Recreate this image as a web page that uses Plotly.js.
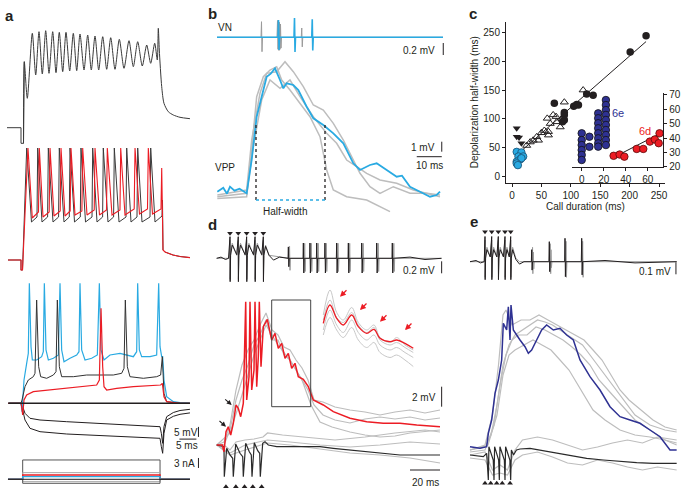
<!DOCTYPE html>
<html><head><meta charset="utf-8">
<script src="https://cdn.plot.ly/plotly-3.0.1.min.js"></script>
<style>html,body{margin:0;padding:0;background:#fff}#chart{width:685px;height:496px}</style>
</head><body><div id="chart"></div>
<script>
// ================= DATA =================
// ---- panel c : main scatter (call duration ms, depolarization half-width ms)
const cBlackCircX = [228,201,127,138,113,105,110,72,89,89,89,86];
const cBlackCircY = [244,216,143,141,124,122,125,127,107,98,111,95];
const cOpenTriX = [121,89,70,60,65,50,42,36,25,62,62,76,82,45,31,55,75,85];
const cOpenTriY = [150,129,107,101,92,76,69,63,54,78,72,95,86,63,60,80,104,100];
const cDownTriX = [8,8,12,16];
const cDownTriY = [84,69,68,58];
const cCyanX = [8,16,11,19,14,8,16,8,10];
const cCyanY = [43,42,35,35,30,26,32,23,20];
const cFitX = [5,228];
const cFitY = [35,234];
const cTicksX = [0,50,100,150,200,250];
const cTicksY = [0,50,100,150,200,250];
// ---- panel c : inset (6e blue, 6d red)
const cInsBlueX = [0,0,0,0,0,0, 7,7, 15,15,15,15,15,15,15,15, 22,22,22,22,22,22,22,22,22,22];
const cInsBlueY = [43.3,38.6,35.1,31.6,28.2,24.7, 40.9,33.9, 57.2,53.8,50.3,46.8,43.3,39.8,36.3,34, 66.5,63,59.5,56.1,52.6,49.1,45.6,42.1,38.6,35.1];
const cInsRedX = [29,34.5,38.8,50,56,62,66.5,70.8,70];
const cInsRedY = [27.6,28.5,27,32.4,32.4,37.5,39,43.3,36.4];
const cInsFitX = [29,71];
const cInsFitY = [26.5,43];
const cInsTicksX = [0,20,40,60];
const cInsTicksY = [20,30,40,50,60,70];

// ---- panel a (time ms, membrane potential mV relative to rest; current nA)
const aTop = [[-4.41,0],[-0.29,0],[-0.29,-7.8],[0.44,-7.8],[0.68,33],[1.56,14.7],[3.03,47.2],[4.03,26.35],[5.0,48],[5.97,26.85],[6.97,48.5],[7.94,27.2],[9.03,48],[10.0,27.5],[10.97,47.7],[11.97,28],[12.94,47.7],[14.03,28.35],[15.09,47.2],[16.09,28.5],[17.06,46.85],[18.24,28.85],[19.32,46.35],[20.38,28.85],[21.47,45.85],[22.56,28.85],[23.74,45.5],[24.91,29.2],[26.09,45],[27.35,29.2],[28.62,44.2],[30.0,29.7],[31.47,43.5],[32.74,30.5],[34.03,43],[35.38,30.85],[36.68,41.35],[37.85,32.2],[39.03,42.2],[39.79,33.85],[40.09,49.7],[40.38,38.85],[41.09,20.5],[41.76,12.2],[43.03,8],[44.5,6.35],[46.47,5.2],[49.4,4.5]];
const aMidBlack = [[-4.12,0],[-0.29,0],[-0.29,-5],[0.15,-5],[1.38,56],[2.79,19],[4.41,21.5],[4.62,56],[5.88,19],[7.53,21.5],[7.74,56],[9.12,19],[10.76,21.5],[10.97,56],[12.35,19],[13.91,21.5],[14.12,56],[15.44,19],[17.15,21.5],[17.35,56],[18.68,19],[20.59,21.5],[20.79,56],[22.06,19],[23.71,21.5],[23.91,56],[25.29,19],[26.94,21.5],[27.15,56],[28.53,19],[30.59,21.5],[30.79,56],[32.06,19],[33.82,21.5],[34.03,56],[35.29,19],[37.65,21.5],[37.85,56],[39.12,19],[41.18,22],[41.32,30],[41.47,5],[42.06,4],[44.41,2.5],[46.47,1.75],[49.4,1.2]];
const aMidRed = [[-4.12,0],[-0.29,0],[-0.29,-5],[0.15,-5],[1.76,56],[3.03,21],[4.85,24],[5.09,56],[6.18,21.5],[8.0,24],[8.24,56],[9.41,22],[11.24,24.5],[11.47,56],[12.65,22],[14.18,24.5],[14.41,56],[15.59,22.5],[17.62,24.5],[17.85,56],[19.12,22.5],[21.24,25],[21.47,56],[22.79,22.5],[24.85,25],[25.09,56],[26.47,22.5],[28.82,25],[29.03,56],[30.29,22.5],[33.0,25.5],[33.24,56],[34.56,23],[36.91,25.5],[37.15,56],[38.38,23],[40.88,25.5],[41.09,46],[41.47,5],[42.06,4],[44.41,2.5],[46.47,1.75],[49.4,1.2]];
const aLowCyan = [[-4.02,0],[-0.29,0],[0,-4.2],[0.59,11.65],[1.37,20],[1.86,25],[2.16,60],[2.65,28.3],[3.04,21.65],[4.31,21.65],[5.78,23.3],[6.27,25.8],[6.57,60],[7.06,26.65],[7.75,21.65],[9.22,22.5],[10.69,24.15],[11.18,60],[11.67,26.65],[12.35,20.8],[14.12,22.5],[16.08,24.15],[16.76,25.8],[17.06,60],[17.55,26.65],[18.53,21.65],[20.49,22.5],[22.16,24.15],[22.75,60],[23.24,26.65],[24.12,21.65],[25.88,24.15],[28.82,25],[30.78,24.15],[32.75,23.3],[33.73,25.8],[34.02,60],[34.51,26.65],[35.2,23.3],[37.65,23.3],[39.61,24.15],[40.2,60],[40.59,28.3],[41.08,23.3],[41.37,23.3],[41.76,11.65],[42.55,3.3],[44.51,0.8],[46.47,0.3],[49.4,0.1]];
const aLowBlack = [[-4.02,0],[-0.29,0],[0,1.65],[0.88,8.3],[1.86,11.65],[3.33,13.3],[3.82,15],[4.31,51.65],[4.9,18.3],[5.49,13.3],[7.26,12.5],[9.22,14.15],[10,15.8],[10.39,51.65],[10.98,18.3],[11.67,13.3],[15.1,13.3],[19.02,14.15],[22.94,14.15],[26.86,14.15],[29.31,15],[30,17.5],[30.39,51.65],[30.98,18.3],[31.76,13.3],[35.69,12.5],[39.61,13.3],[40.78,14.15],[41.27,23.3],[41.76,5],[42.55,0.8],[46.47,0],[49.4,0]];
const aLowRed = [[-4.02,0],[-0.29,0],[-0.1,-1.7],[0.2,-5.85],[0.59,1.65],[1.37,4.15],[3.33,5.8],[8.24,6.65],[13.14,7.5],[18.04,8.3],[21.96,9.15],[22.75,11.65],[23.24,47.5],[23.73,18.3],[24.12,8.3],[24.9,6.65],[27.84,7.5],[32.75,8.3],[37.65,8.65],[40.78,9.15],[41.27,10],[41.76,3.3],[42.55,0.8],[46.47,0],[49.4,0]];
const aHyp1 = [[-4.02,0],[-0.29,0],[0.2,-1.7],[0.88,-5],[2.35,-7.5],[5.29,-8.35],[13.14,-9.2],[22.94,-10],[32.75,-10.85],[40.59,-11.7],[40.98,-15],[41.37,-20],[41.76,-11.7],[42.55,-6.7],[44.51,-4.6],[46.47,-3.6],[49.4,-3.0]];
const aHyp2 = [[-4.02,0],[-0.29,0],[0.2,-3.35],[0.88,-8.35],[2.35,-12.5],[5.29,-14.2],[13.14,-15.35],[22.94,-16.2],[32.75,-17],[40.59,-17.5],[40.98,-21.7],[41.37,-25],[41.76,-15],[42.55,-8.35],[44.51,-6.5],[46.47,-5.5],[49.4,-4.8]];
const aRest = [[-4.02,0],[49.4,0]];
const aCurrentLevels = [5.8, 2.0, 1.3, 0.8, -0.7, -1.2];
const aCurrentStep = [0.2, 40.6];
const aCurrentSpan = [-4.12, 49.4];

// ---- panel b (time ms; VN mV, VPP mV)
const bVnGray = [[0,0],[17.6,0],[17.8,0.26],[18.0,-0.24],[18.2,0],[24.0,0],[24.2,0.28],[24.4,-0.2],[24.6,0.27],[24.8,-0.22],[25.0,0.25],[25.2,-0.2],[25.4,0.22],[25.6,-0.18],[25.8,0],[33.7,0],[33.9,0.155],[34.1,-0.16],[34.3,0],[90.4,0]];
const bVnCyan = [[0,0],[24.4,0],[24.6,0.29],[24.8,-0.21],[25.0,0],[30.8,0],[31.0,0.32],[31.2,-0.245],[31.4,0],[37.9,0],[38.1,0.3],[38.3,-0.22],[38.5,0],[90.4,0]];
const bVppGray1 = [[0.13,-0.67],[11.87,-0.5],[13.87,4.17],[15.87,9.5],[18.53,11.5],[21.2,12.17],[23.87,12.5],[25.87,11.17],[29.2,10.17],[33.2,8.84],[37.2,7.5],[41.2,5.5],[43.87,2.17],[46.53,0.17],[51.87,-0.5],[59.87,-0.83],[65.2,-1.5],[69.2,-2]];
const bVppGray2 = [[0.13,-0.33],[11.87,0.17],[13.87,5.17],[17.2,9.84],[19.87,11.84],[23.87,12],[27.2,13],[30.53,12],[34.53,10.5],[38.53,8.67],[42.53,8.17],[46.53,6.84],[50.53,5.17],[53.2,3.84],[57.2,1.84],[61.2,0.5],[65.2,-0.16],[70.53,0.5],[77.2,-0.16],[83.87,-0.16],[89.2,-0.33]];
const bVppGray3 = [[0.13,-0.5],[11.87,-0.16],[14.53,4.5],[17.87,9.17],[21.2,11.17],[25.2,10.34],[29.2,11.17],[33.2,9.5],[38.53,7.5],[43.87,5.84],[47.87,4.84],[51.87,3.17],[55.87,2.5],[59.87,1.84],[65.2,1.17],[71.87,0.84],[78.53,0.17],[89.2,-0.5]];
const bVppCyan = [[0.13,0],[2.5,0.4],[4,-0.2],[5.2,0.5],[7,0.1],[9,0.3],[11.87,-0.16],[13.87,3.17],[15.87,7.5],[17.87,9.5],[19.87,11.5],[21.5,11.8],[23.2,12.34],[25.2,11.17],[26.53,10.34],[27.87,10.84],[30.53,10.67],[32.53,10.17],[35.87,8.5],[38.53,7.34],[42.53,6.67],[46.53,5.84],[50.53,4.84],[54.53,2.84],[57.2,2.17],[61.2,2.67],[63.87,2.84],[67.87,2.17],[71.87,1.5],[74,1.6],[77.2,0.5],[81.2,0],[85.2,-0.5],[87.87,-0.33],[89.2,0]];
const bHalfWidthT = [15.6, 43.2];
const bHalfWidthV = [6.67, -0.83];

// ---- panel d (time ms; top VN mV, lower VPP mV, inset)
const dTopGray = [[-8.9,0],[-0.5,0],[0,0.3],[0.1,-0.35],[0.4,0.1],[1.5,0.25],[4.5,0.05],[5.5,0.3],[5.6,-0.35],[5.9,0.1],[7,0.25],[10.1,0.05],[11.1,0.3],[11.2,-0.35],[11.5,0.1],[12.6,0.25],[15.7,0.05],[16.7,0.3],[16.8,-0.35],[17.1,0.1],[18.2,0.25],[21.2,0.05],[22.2,0.3],[22.3,-0.35],[22.6,0.1],[23.7,0.22],[26,0.05],[39.5,0],[39.7,0.2],[40,-0.2],[40.3,0],[49.6,0],[49.8,0.25],[50.1,-0.22],[50.4,0],[54,0],[54.2,0.25],[54.5,-0.22],[54.8,0],[58.6,0],[58.8,0.25],[59.1,-0.22],[59.4,0],[64,0],[64.2,0.25],[64.5,-0.22],[64.8,0],[71.8,0],[72,0.25],[72.3,-0.22],[72.6,0],[79.6,0],[79.8,0.25],[80.1,-0.22],[80.4,0],[88.6,0],[88.8,0.25],[89.1,-0.22],[89.4,0],[98.6,0],[98.8,0.25],[99.1,-0.22],[99.4,0],[109,0],[109.2,0.25],[109.5,-0.22],[109.8,0],[141,0]];
const dTopBlack = [[-8.9,0],[-6,0.02],[-3,-0.02],[-1,0],[0,0.36],[0.1,-0.39],[0.4,0.05],[1.5,0.22],[4.5,0.06],[5.5,0.36],[5.6,-0.39],[5.9,0.05],[7.0,0.22],[10.1,0.06],[11.1,0.36],[11.2,-0.39],[11.5,0.05],[12.6,0.22],[15.7,0.06],[16.7,0.36],[16.8,-0.39],[17.1,0.05],[18.2,0.22],[21.2,0.06],[22.2,0.36],[22.3,-0.39],[22.6,0.05],[23.7,0.2],[26,0.05],[29,-0.03],[33,0.02],[38.7,0],[38.9,0.19],[39.2,-0.14],[39.5,0],[48.7,0],[48.9,0.255],[49.2,-0.245],[49.5,0],[53.1,0],[53.3,0.255],[53.6,-0.245],[53.9,0],[57.6,0],[57.8,0.255],[58.1,-0.245],[58.4,0],[63.1,0],[63.3,0.255],[63.6,-0.245],[63.9,0],[70.9,0],[71.1,0.255],[71.4,-0.245],[71.7,0],[78.7,0],[78.9,0.255],[79.2,-0.245],[79.5,0],[87.6,0],[87.8,0.255],[88.1,-0.245],[88.4,0],[97.6,0],[97.8,0.255],[98.1,-0.245],[98.4,0],[108,0],[108.2,0.255],[108.5,-0.245],[108.8,0],[120,0.02],[130,-0.02],[141,0]];
const dStimTop = [0,5.5,11.1,16.7,22.2];
const dStimBottom = [-2.7,3.9,9.7,15.2,21.1];
const dLowGrayU1 = [[-8.87,0],[-4,0.3],[0,2],[4,5.5],[8,8],[12,9.5],[16,10.5],[20,12],[24,13.2],[28,11.5],[32,11],[36,9.8],[40,9.5],[44,8.5],[48,7.7],[52,6.5],[56,4.5],[62,4.3],[70,3.8],[80,3.5],[90,3.3],[100,3],[110,3.3],[120,3.5],[130,3.2],[140,3.5]];
const dLowGrayU2 = [[-8.87,0],[-4,0],[0,1.5],[4,4.5],[8,6.5],[12,8],[16,10],[20,11],[24,12.5],[28,10.5],[32,10.5],[36,9],[40,8.5],[44,7.5],[48,6.5],[52,5.5],[56,4],[62,3],[70,2.5],[80,2.2],[90,2.6],[100,2.8],[110,2.6],[120,2.8],[130,2.5],[140,2.7]];
const dLowGrayU3 = [[-8.87,0],[0,1.2],[8,5],[16,9],[24,12],[32,10],[40,8.5],[48,6.5],[54,4],[60,2.3],[68,1.8],[80,1.3],[90,1],[100,0.8],[110,0.9],[120,1.2],[140,1.5]];
const dLowGrayL1 = [[-8.87,0],[-4,0],[0,-0.5],[4,0.3],[10,0.5],[16,0.6],[22,0.8],[25,1.2],[35,1],[50,0.8],[70,0.5],[90,0.8],[110,1.2],[130,1.5],[140,1.3]];
const dLowGrayL2 = [[-8.87,0],[0,-0.8],[10,0],[20,0.3],[25,0.5],[40,0.3],[60,0],[80,-0.2],[100,0],[120,0.3],[140,0.1]];
const dLowGrayL3 = [[-8.87,0],[0,-1],[10,-0.5],[22,0],[25,0.2],[40,0],[60,-0.4],[80,-0.8],[100,-1],[120,-1.3],[140,-1.8]];
const dLowBlack = [[-8.87,0],[-4.87,-0.1],[-4,-0.17],[-3.8,-3.17],[-2.2,-0.33],[0,-1],[1.8,-1.33],[2.2,-3.17],[3.8,0.1],[6.67,-0.83],[8.47,-1.17],[8.87,-3.17],[10.47,0.17],[12.87,-0.67],[14.2,-1],[14.67,-3.17],[16.2,0.23],[18.47,-0.57],[19.8,-0.83],[20.2,-3.17],[21.8,0.17],[23.33,0.33],[25.53,0],[31.13,-0.17],[42.2,-0.17],[60,-0.17],[68.87,-0.33],[91.13,-0.67],[113.33,-1],[140,-1]];
const dLowRed = [[-8.87,0],[-5.13,0],[-4,-0.67],[-2.67,1.33],[-1.13,1.83],[0.47,1],[2.2,2.17],[4,4],[5.53,3.67],[7.13,2.83],[8.87,4.17],[10.47,14.33],[11.13,4.5],[12.67,6.83],[13.33,14.33],[14.47,5.5],[16,7.5],[16.67,14.33],[17.8,5.83],[18.87,8.83],[19.53,14.33],[20.67,7.83],[22.2,11.83],[24.87,12.57],[27.8,10.5],[30,11.17],[32.2,9.67],[34.47,10.17],[36.67,8.67],[38.87,9.17],[41.13,7.67],[43.33,8.17],[45.53,6.83],[48.87,6.57],[52.2,5.83],[54.47,4.83],[55.53,4.5],[62.2,4],[68.87,3.33],[80,2.67],[91.13,2.33],[102.2,2.17],[113.33,2.17],[124.47,2],[140,1.83]];
const dBoxT = [27.8, 53.8];
const dBoxV = [3.83, 14.5];
const dInsetRed = [[27.8,4.34],[29.74,8],[31.67,5.34],[33.58,4],[36.01,6],[37.92,3.66],[40.34,2.34],[42.45,3.14],[44.19,1.34],[47.08,0.66],[49.01,1],[51.41,0.34],[53.81,-0.66]];
const dInsetGray1 = [[27.8,6],[29.74,11],[31.67,6.5],[33.58,5],[36.01,7.5],[37.92,4.5],[40.34,3],[42.45,4],[44.19,1.5],[47.08,0.5],[49.01,1.5],[51.41,0],[53.81,-1]];
const dInsetGray2 = [[27.8,3],[29.74,7],[31.67,4],[33.58,2.5],[36.01,5],[37.92,2.5],[40.34,1],[42.45,2],[44.19,0],[47.08,-1],[49.01,-0.5],[51.41,-1.5],[53.81,-2.5]];
const dInsetGray3 = [[27.8,2],[29.74,5.5],[31.67,3],[33.58,1.5],[36.01,3.5],[37.92,1],[40.34,-0.5],[42.45,0.5],[44.19,-1.5],[47.08,-2.5],[49.01,-2],[51.41,-3],[53.81,-4.3]];
const dInsetGray4 = [[27.8,5],[29.74,9],[31.67,5.5],[33.58,4.5],[36.01,6.5],[37.92,4],[40.34,2.5],[42.45,3.5],[44.19,1],[47.08,0],[49.01,0.5],[51.41,-0.5],[53.81,-1.5]];
const dInsetArrowTips = [[32.63,9.66],[38.41,7],[44.19,4.66],[51.41,3]];
const dBlackArrowTips = [[-2.67,1.83],[1.13,4]];

// ---- panel e (time ms; top VN mV, lower VPP mV)
const eTopGray = [[-10,0],[-0.5,0],[0,0.18],[0.1,-0.13],[0.4,0.05],[1.3,0.12],[3.5,0.04],[4.47,0.18],[4.57,-0.13],[4.87,0.05],[5.77,0.12],[7.9,0.04],[8.87,0.18],[8.97,-0.13],[9.27,0.05],[10.17,0.12],[12.3,0.04],[13.33,0.18],[13.43,-0.13],[13.73,0.05],[14.63,0.12],[16.2,0.04],[17.13,0.18],[17.23,-0.13],[17.53,0.05],[18.43,0.12],[20.5,0.03],[23,0],[31.5,0],[31.7,0.12],[31.9,-0.1],[32.2,0.08],[32.5,-0.06],[32.8,0],[43.3,0],[43.5,0.15],[43.8,-0.1],[44.0,0.1],[44.3,-0.05],[44.6,0],[53.8,0],[54.0,0.17],[54.3,-0.13],[54.6,0],[64.9,0],[65.1,0.17],[65.4,-0.13],[65.7,0],[127.8,0]];
const eTopBlack = [[-10,0],[-6,0.01],[-3,-0.01],[-0.5,0],[0,0.21],[0.1,-0.15],[0.4,0.03],[1.3,0.1],[3.5,0.04],[4.47,0.21],[4.57,-0.15],[4.87,0.03],[5.77,0.1],[7.9,0.04],[8.87,0.21],[8.97,-0.15],[9.27,0.03],[10.17,0.1],[12.3,0.04],[13.33,0.21],[13.43,-0.15],[13.73,0.03],[14.63,0.1],[16.2,0.04],[17.13,0.21],[17.23,-0.15],[17.53,0.03],[18.43,0.1],[20.5,0.02],[23,-0.02],[26,0],[30.9,0],[31.13,0.1],[31.4,-0.07],[31.7,0],[42.6,0],[42.87,0.167],[43.15,-0.083],[43.4,0],[53.1,0],[53.33,0.195],[53.6,-0.125],[53.9,0],[64.2,0],[64.47,0.195],[64.75,-0.11],[65.0,0],[80,0.01],[100,-0.01],[127.8,0]];
const eStimTop = [0,4.47,8.87,13.33,17.13];
const eStimBottom = [0,3.8,7.8,11.5,16.7];
const eLowGray1 = [[-10,0.5],[0,0.8],[4,2],[8,5],[12,9],[16,11],[20,12],[25,12.5],[30,13],[35,13.5],[40,13.3],[45,13],[50,12.5],[55,12],[60,11.5],[65,11],[70,10],[75,9],[80,8],[85,7],[90,6],[95,5],[100,4],[105,3.5],[110,3],[120,2.5],[127.78,2.3]];
const eLowGray2 = [[-10,0.3],[0,0.5],[6,3],[10,7],[14,10],[18,11.5],[22,12],[28,12],[34,12.8],[40,12.5],[46,12],[52,11.5],[58,10.8],[64,10],[70,9],[76,7.5],[82,6.5],[88,5.5],[94,4.5],[100,3.5],[110,2.5],[120,1.5],[127.78,1]];
const eLowGray3 = [[-10,0.5],[2,1],[8,4],[12,8],[16,10],[20,10.5],[26,11],[32,11.5],[38,11],[44,10.5],[50,9.5],[56,8.5],[60,7.5],[66,6],[72,4.5],[80,3.5],[90,2.5],[100,2],[110,1.8],[120,1.5],[127.78,1.2]];
const eLowGray4 = [[-10,0.5],[0,1],[5,4],[9,9],[12,14],[14,14.5],[18,13],[24,13.5],[30,13.5],[36,14],[42,13.5],[48,13],[54,12.5],[60,12],[66,11.5],[72,10.5],[78,9.5],[84,8],[90,6.5],[96,5.5],[104,4.5],[112,3.5],[120,2.8],[127.78,2.5]];
const eLowGrayB1 = [[-10,0],[0,0.3],[5,-1.5],[10,-1],[15,-1.5],[20,0.5],[25,1.5],[35,1.8],[45,1.5],[55,1],[65,0.5],[75,0.8],[85,1.2],[95,1.5],[105,1.2],[115,1.8],[127.78,1.5]];
const eLowGrayB2 = [[-10,-0.3],[0,-0.5],[5,-2],[10,-1.8],[15,-2],[20,-0.5],[25,0],[35,0.3],[45,-0.2],[55,-0.8],[65,-1],[75,-0.5],[85,-0.8],[95,-1.2],[105,-1.5],[115,-1.2],[127.78,-1.5]];
const eLowBlue = [[-10,0.83],[-3.33,0.67],[1.11,0.83],[2.22,2.17],[4.44,3.5],[6.67,6.17],[8.89,7.5],[11.11,9.5],[12.22,13.17],[14.44,12.5],[15.56,14.83],[16.67,11.5],[17.33,15],[18.89,12.5],[23.33,11.5],[26.67,10.83],[28.89,10.17],[31.11,10.5],[34.44,11.5],[37.78,12.5],[41.11,13],[45.56,12.5],[50,12.67],[54.44,12],[58.89,11.5],[63.33,9.5],[70,7.83],[76.67,6.5],[83.33,4.83],[90,3.83],[96.67,3.5],[103.33,3.17],[110,2.5],[116.67,1.83],[123.33,0.5],[127.78,0.5]];
const eLowBlack = [[-10,0],[-1.11,-0.17],[1.11,0.17],[2.22,-2.5],[2.6,0.83],[5.5,-0.5],[6,-2.5],[6.4,0.83],[9.1,-0.5],[9.56,-2.5],[9.96,0.83],[12.9,-0.5],[13.33,-2.5],[13.73,0.83],[16.6,-0.5],[17.11,-2.5],[17.6,0.5],[19,0],[21,0.5],[23.33,0.6],[30,0.67],[36.67,0.5],[43.33,0.33],[56.67,0],[67.78,-0.33],[78.89,-0.5],[90,-0.67],[101.11,-0.77],[112.22,-0.83],[127.78,-0.83]];

// ---- scale bars (value sizes)
const scaleA = {ms:5, mV:5, nA:3};
const scaleB = {vnMV:0.2, vppMV:1, ms:10};
const scaleD = {vnMV:0.2, vppMV:2, ms:20};
const scaleE = {vnMV:0.1};

// ================= DRAWING =================
const W = 685, H = 496;
const FONT = 'Arial, "Liberation Sans", Helvetica, sans-serif';
const BLACK = '#231f20', GRAY = '#bdbdbd', CYAN = '#29aae2', RED = '#ec1c24', NAVY = '#2e3192';
const xs = a => a.map(p => p[0]);
const ys = a => a.map(p => p[1]);
function xAx(pxL, pxR, px0, s){ return {domain:[pxL/W, pxR/W], range:[(pxL-px0)/s, (pxR-px0)/s], visible:false, fixedrange:true}; }
function yAx(pyT, pyB, py0, s){ return {domain:[1-pyB/H, 1-pyT/H], range:[(py0-pyB)/s, (py0-pyT)/s], visible:false, fixedrange:true}; }
function ax(n){ return n===1 ? ['x','y'] : ['x'+n,'y'+n]; }
function L(arr, n, color, width, extra){
  const a = ax(n);
  return Object.assign({type:'scatter', mode:'lines', x:xs(arr), y:ys(arr), xaxis:a[0], yaxis:a[1],
    line:Object.assign({color:color, width:width}, extra||{}), hoverinfo:'skip', showlegend:false});
}
function LXY(x, y, n, color, width, extra){ return L(x.map((v,i)=>[v,y[i]]), n, color, width, extra); }
function M(x, y, n, symbol, size, color, lineColor, lineW){
  const a = ax(n);
  return {type:'scatter', mode:'markers', x:x, y:y, xaxis:a[0], yaxis:a[1], hoverinfo:'skip', showlegend:false,
    marker:{symbol:symbol, size:size, color:color, line:{color:lineColor||color, width:lineW||0}}};
}
const traces = [];

// ---- panel c main
traces.push(LXY(cFitX, cFitY, 1, BLACK, 1));
traces.push(M(cOpenTriX, cOpenTriY, 1, 'triangle-up-open', 7, BLACK, BLACK, 1));
traces.push(M(cDownTriX, cDownTriY, 1, 'triangle-down', 7, BLACK));
traces.push(M(cBlackCircX, cBlackCircY, 1, 'circle', 7.5, BLACK));
traces.push(M(cCyanX, cCyanY, 1, 'circle', 7.5, CYAN, '#1b4f72', 0.8));
// ---- panel c inset
traces.push(LXY(cInsFitX, cInsFitY, 2, BLACK, 1));
traces.push(M(cInsBlueX, cInsBlueY, 2, 'circle', 7.5, NAVY, '#111', 0.8));
traces.push(M(cInsRedX, cInsRedY, 2, 'circle', 7.5, RED, '#5a0a0a', 0.8));

// ---- panel a
const aSplitIdx = 3;
traces.push(L(aTop.slice(0, aSplitIdx+2), 3, '#3a3a3a', 1));
traces.push(L(aTop.slice(aSplitIdx), 3, '#3a3a3a', 1, {shape:'spline', smoothing:0.7}));
traces.push(L(aMidBlack, 4, '#3a3a3a', 1));
traces.push(L(aMidRed, 4, RED, 1.1));
traces.push(L(aHyp1, 5, BLACK, 1));
traces.push(L(aHyp2, 5, BLACK, 1));
traces.push(L(aLowCyan, 5, CYAN, 1.2));
traces.push(L(aLowBlack, 5, '#333', 1));
traces.push(L(aLowRed, 5, RED, 1.2));
traces.push(L(aRest, 5, BLACK, 1.5));
const aCurColors = ['#555', '#aaa', RED, CYAN, '#aaa', '#555'];
aCurrentLevels.forEach((lv, i) => {
  const pts = [[aCurrentSpan[0],0],[aCurrentStep[0],0],[aCurrentStep[0],lv],[aCurrentStep[1],lv],[aCurrentStep[1],0],[aCurrentSpan[1],0]];
  traces.push(L(pts, 6, aCurColors[i], i===2||i===3 ? 1.4 : 1));
});
traces.push(L([[aCurrentSpan[0],0],[aCurrentSpan[1],0]], 6, BLACK, 1));
// scale bars a (vertical bars right of the labels)
const aBarT = 51.9, aBarV = -11.8;
traces.push(L([[aBarT, aBarV],[aBarT, aBarV - scaleA.mV]], 5, BLACK, 1));
traces.push(L([[aBarT - scaleA.ms - 0.6, aBarV - scaleA.mV - 1.1],[aBarT - 0.6, aBarV - scaleA.mV - 1.1]], 5, BLACK, 1));
traces.push(L([[aBarT, 3.4],[aBarT, 3.4 + scaleA.nA]], 6, BLACK, 1));

// ---- panel b
traces.push(L(bVnGray, 7, '#9a9a9a', 1));
traces.push(L(bVnCyan, 7, CYAN, 1.6));
traces.push(L([[90.5,-0.095],[90.5,-0.095 - scaleB.vnMV]], 7, BLACK, 1));
traces.push(L(bVppGray1, 8, GRAY, 1.5));
traces.push(L(bVppGray2, 8, GRAY, 1.5));
traces.push(L(bVppGray3, 8, GRAY, 1.5));
traces.push(L(bVppCyan, 8, CYAN, 1.8));
bHalfWidthT.forEach(t => traces.push(L([[t, bHalfWidthV[0]],[t, bHalfWidthV[1]]], 8, BLACK, 1.3, {dash:'dot'})));
traces.push(L([[bHalfWidthT[0], bHalfWidthV[1]],[bHalfWidthT[1], bHalfWidthV[1]]], 8, CYAN, 1.3, {dash:'dot'}));
traces.push(L([[89.9, 5],[89.9, 5 - scaleB.vppMV]], 8, BLACK, 1));
traces.push(L([[89.9 - scaleB.ms, 3.5],[89.9, 3.5]], 8, BLACK, 1));

// ---- panel d
traces.push(L(dTopGray, 9, '#9a9a9a', 1));
traces.push(L(dTopBlack, 9, BLACK, 1));
traces.push(M(dStimTop, dStimTop.map(()=>0.417), 9, 'triangle-down', 5, BLACK));
traces.push(L([[141.1,-0.05],[141.1,-0.05 - scaleD.vnMV]], 9, BLACK, 1));
[dLowGrayU1, dLowGrayU2, dLowGrayU3, dLowGrayL1, dLowGrayL2, dLowGrayL3].forEach(g => traces.push(L(g, 10, GRAY, 1.2)));
traces.push(L(dLowBlack, 10, '#2a2a2a', 1.2));
traces.push(L(dLowRed, 10, RED, 1.5));
traces.push(L([[dBoxT[0],dBoxV[0]],[dBoxT[1],dBoxV[0]],[dBoxT[1],dBoxV[1]],[dBoxT[0],dBoxV[1]],[dBoxT[0],dBoxV[0]]], 10, '#444', 1));
traces.push(M(dStimBottom, dStimBottom.map(()=>-4.17), 10, 'triangle-up', 5, BLACK));
traces.push(L([[141.1,5.83],[141.1,5.83 - scaleD.vppMV]], 10, BLACK, 1));
traces.push(L([[140 - scaleD.ms, -2.5],[140, -2.5]], 10, BLACK, 1));
[dInsetGray1, dInsetGray2, dInsetGray3, dInsetGray4].forEach(g => traces.push(L(g, 11, '#c8c8c8', 1, {shape:'spline', smoothing:1})));
traces.push(L(dInsetRed, 11, RED, 1.3, {shape:'spline', smoothing:1}));

// ---- panel e
traces.push(L(eTopGray, 12, '#9a9a9a', 1));
traces.push(L(eTopBlack, 12, BLACK, 1));
traces.push(M(eStimTop, eStimTop.map(()=>0.25), 12, 'triangle-down', 5, BLACK));
traces.push(L([[127.3,-0.005],[127.3,-0.005 - scaleE.vnMV]], 12, BLACK, 1));
[eLowGray1, eLowGray2, eLowGray3, eLowGray4, eLowGrayB1, eLowGrayB2].forEach(g => traces.push(L(g, 13, GRAY, 1.2)));
traces.push(L(eLowBlack, 13, '#2a2a2a', 1.2));
traces.push(L(eLowBlue, 13, NAVY, 1.5));
traces.push(M(eStimBottom, eStimBottom.map(()=>-2.83), 13, 'triangle-up', 5, BLACK));

// ================= LAYOUT =================
const tickFont = {family:FONT, size:10, color:BLACK};
const layout = {
  width:W, height:H, margin:{l:0,r:0,t:0,b:0}, paper_bgcolor:'#fff', plot_bgcolor:'rgba(0,0,0,0)',
  showlegend:false, font:{family:FONT, color:BLACK},
  xaxis:{domain:[506/W, 665/W], range:[-10.2, 260.2], anchor:'y', tickvals:cTicksX, ticks:'outside', ticklen:3, tickwidth:1,
    tickcolor:BLACK, showline:true, linecolor:BLACK, linewidth:1, showgrid:false, zeroline:false, tickfont:tickFont,
    title:{text:'Call duration (ms)', font:{family:FONT, size:10, color:BLACK}, standoff:3}, fixedrange:true},
  yaxis:{domain:[1-182.7/H, 1-21.7/H], range:[-10.4, 268.4], anchor:'x', tickvals:cTicksY, ticks:'outside', ticklen:3, tickwidth:1,
    tickcolor:BLACK, showline:true, linecolor:BLACK, linewidth:1, showgrid:false, zeroline:false, tickfont:tickFont,
    title:{text:'Depolarization half-width (ms)', font:{family:FONT, size:10, color:BLACK}, standoff:2}, fixedrange:true},
  xaxis2:{domain:[571.7/W, 663.3/W], range:[-9.1, 74.2], anchor:'y2', tickvals:cInsTicksX, ticks:'outside', ticklen:3,
    tickcolor:BLACK, showline:true, linecolor:BLACK, linewidth:1, showgrid:false, zeroline:false, tickfont:tickFont, fixedrange:true},
  yaxis2:{domain:[1-167/H, 1-92.7/H], range:[19.8, 71.6], anchor:'x2', side:'right', tickvals:cInsTicksY, ticks:'outside', ticklen:3,
    tickcolor:BLACK, showline:true, linecolor:BLACK, linewidth:1, showgrid:false, zeroline:false, tickfont:tickFont, fixedrange:true},
  xaxis3:xAx(0,205,22,3.4),  yaxis3:yAx(15,150,127.7,2),
  xaxis4:xAx(0,205,22,3.4),  yaxis4:yAx(140,275,260,2),
  xaxis5:xAx(0,205,22,3.4),  yaxis5:yAx(275,456,403.3,2),
  xaxis6:xAx(0,205,22,3.4),  yaxis6:yAx(450,492,479.3,10/3),
  xaxis7:xAx(205,450,217,2.5), yaxis7:yAx(10,62,37.3,60),
  xaxis8:xAx(205,450,217,2.5), yaxis8:yAx(60,218,191.7,10),
  xaxis9:xAx(205,450,230,1.5), yaxis9:yAx(228,290,258.3,60),
  xaxis10:xAx(205,450,230,1.5), yaxis10:yAx(290,494,445,10),
  xaxis11:xAx(315,420,227.1,3.46), yaxis11:yAx(280,375,345,5),
  xaxis12:xAx(465,685,485,1.5), yaxis12:yAx(225,290,261.7,120),
  xaxis13:xAx(465,685,485,1.5), yaxis13:yAx(290,494,455,10),
  annotations:[]
};
for (let n=3; n<=13; n++){ layout['xaxis'+n].anchor='y'+n; layout['yaxis'+n].anchor='x'+n; }

function T(text, px, py, opt){
  opt = opt || {};
  return {xref:'paper', yref:'paper', x:px/W, y:1-py/H, text:text, showarrow:false,
    xanchor:opt.xa||'center', yanchor:'middle', font:{family:FONT, size:opt.size||10, color:opt.color||BLACK}};
}
const A = layout.annotations;
// panel letters
A.push(T('<b>a</b>', 9, 15, {size:15}));
A.push(T('<b>b</b>', 213, 13, {size:15}));
A.push(T('<b>c</b>', 473, 13, {size:15}));
A.push(T('<b>d</b>', 212, 224, {size:15}));
A.push(T('<b>e</b>', 474, 222, {size:15}));
// panel a labels
A.push(T('5 mV', 172, 432, {xa:'left'}));
A.push(T('5 ms', 174, 445, {xa:'left'}));
A.push(T('3 nA', 172, 463, {xa:'left'}));
// panel b labels
A.push(T('VN', 225, 28));
A.push(T('0.2 mV', 437, 50, {xa:'right'}));
A.push(T('VPP', 225, 167));
A.push(T('1 mV', 437, 147, {xa:'right'}));
A.push(T('10 ms', 429, 165));
A.push(T('Half-width', 285, 211));
// panel c inset labels
A.push(T('6e', 618, 113, {size:11, color:NAVY}));
A.push(T('6d', 645, 131, {size:11, color:RED}));
// panel d labels
A.push(T('0.2 mV', 437, 270, {xa:'right'}));
A.push(T('2 mV', 438, 397, {xa:'right'}));
A.push(T('20 ms', 425, 482));
// panel e labels
A.push(T('0.1 mV', 673, 271, {xa:'right'}));
// arrows
dInsetArrowTips.forEach(p => A.push({xref:'x11', yref:'y11', x:p[0], y:p[1], ax:8, ay:-8, text:'', showarrow:true,
  arrowhead:2, arrowsize:0.9, arrowwidth:1.3, arrowcolor:RED}));
dBlackArrowTips.forEach(p => A.push({xref:'x10', yref:'y10', x:p[0], y:p[1], ax:-8, ay:-7, text:'', showarrow:true,
  arrowhead:2, arrowsize:0.9, arrowwidth:1.1, arrowcolor:BLACK}));

Plotly.newPlot('chart', traces, layout, {staticPlot:true, displayModeBar:false});
</script>
</body></html>
